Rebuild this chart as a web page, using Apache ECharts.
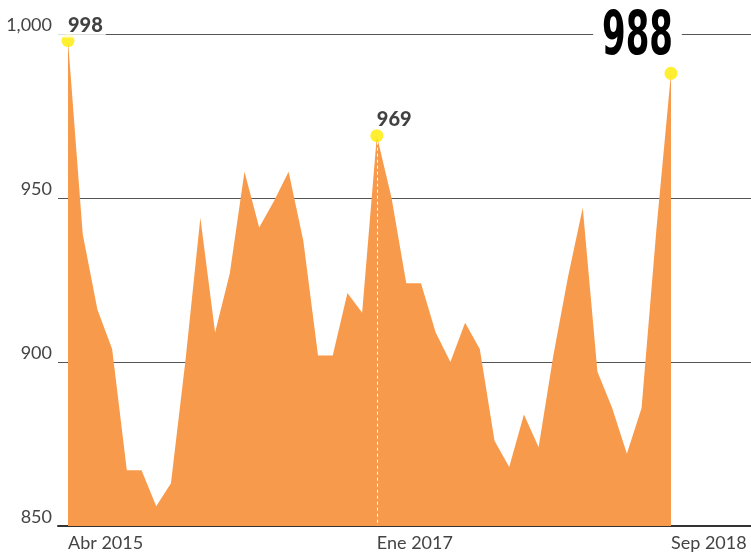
<!DOCTYPE html>
<html>
<head>
<meta charset="utf-8">
<script src="https://cdn.jsdelivr.net/npm/echarts@6/dist/echarts.min.js"></script>
<style>
html,body{margin:0;padding:0;background:#fff;}
#chart{width:751px;height:553px;}
</style>
</head>
<body>
<div id="chart"></div>
<script>
// Months from Abr 2015 to Sep 2018
const months = ["Abr 2015","May 2015","Jun 2015","Jul 2015","Ago 2015","Sep 2015","Oct 2015","Nov 2015","Dic 2015",
  "Ene 2016","Feb 2016","Mar 2016","Abr 2016","May 2016","Jun 2016","Jul 2016","Ago 2016","Sep 2016","Oct 2016","Nov 2016","Dic 2016",
  "Ene 2017","Feb 2017","Mar 2017","Abr 2017","May 2017","Jun 2017","Jul 2017","Ago 2017","Sep 2017","Oct 2017","Nov 2017","Dic 2017",
  "Ene 2018","Feb 2018","Mar 2018","Abr 2018","May 2018","Jun 2018","Jul 2018","Ago 2018","Sep 2018"];
const values = [998,939,916,904,867,867,856,863,901,944,909,927,958,941,949,958,937,902,902,921,915,
  969,950,924,924,909,900,912,904,876,868,884,874,902,926,947,897,886,872,886,940,988];
const xLabelIndexes = [0, 21, 41];
const highlightIndexes = [0, 21, 41];
const bigLabelIndex = 41;

const seriesData = values.map((v, i) => [i, v]);

const labelStyles = {
  0: {position: [-3.5, -8.5], align: 'left', verticalAlign: 'middle', fontSize: 20, fontWeight: 900,
      fontFamily: 'Lato', color: '#111', backgroundColor: '#fff', padding: [2, 3, 2, 10]},
  21: {position: [6.5, -9.5], align: 'left', verticalAlign: 'middle', fontSize: 20, fontWeight: 900,
      fontFamily: 'Lato', color: '#111'}
};

const highlightData = highlightIndexes.map(i => ({
  value: [i, values[i]],
  label: labelStyles[i] ? Object.assign({show: true, formatter: String(values[i])}, labelStyles[i]) : {show: false}
}));

const chart = echarts.init(document.getElementById('chart'), null, {renderer: 'canvas'});
chart.setOption({
  animation: false,
  backgroundColor: '#fff',
  grid: {left: 58, right: 0, top: 34, bottom: 27},
  xAxis: {
    type: 'value',
    min: -0.68,
    max: 46.44,
    axisLine: {show: true, lineStyle: {color: '#333', width: 2}},
    axisTick: {show: false},
    splitLine: {show: false},
    axisLabel: {
      customValues: xLabelIndexes,
      formatter: v => months[Math.round(v)],
      align: 'left',
      margin: 8,
      fontFamily: 'Lato',
      fontSize: 18,
      color: '#444'
    }
  },
  yAxis: {
    type: 'value',
    min: 850,
    max: 1000,
    interval: 50,
    axisLine: {show: false},
    axisTick: {show: false},
    splitLine: {lineStyle: {color: '#555', width: 1.2}},
    axisLabel: {
      formatter: v => v.toLocaleString('en-US'),
      margin: 6,
      verticalAlign: 'bottom',
      lineHeight: 18,
      fontFamily: 'Lato',
      fontSize: 18,
      color: '#444'
    }
  },
  series: [
    {
      type: 'line',
      data: seriesData,
      symbol: 'none',
      lineStyle: {width: 0},
      areaStyle: {color: '#F89A4B', opacity: 1},
      z: 2,
      markLine: {
        silent: true,
        symbol: 'none',
        label: {show: false},
        lineStyle: {color: '#fff', type: [3, 3], width: 1},
        data: [[{coord: [21, values[21]]}, {coord: [21, 850]}]]
      }
    },
    {
      type: 'scatter',
      data: highlightData,
      symbolSize: 13,
      itemStyle: {color: '#FFEB00'},
      z: 5
    }
  ]
});

// Big condensed label for the last value, anchored via the chart's own scales
const p = chart.convertToPixel({seriesIndex: 1}, [bigLabelIndex, values[bigLabelIndex]]);
chart.setOption({
  graphic: [{
    type: 'text',
    x: p[0] - 33.5,
    y: p[1] - 35,
    scaleX: 0.63,
    z: 3,
    style: {
      text: String(values[bigLabelIndex]),
      font: 'bold 60px "DejaVu Sans Condensed", "DejaVu Sans", sans-serif',
      lineHeight: 48,
      fill: '#000',
      align: 'center',
      verticalAlign: 'middle',
      backgroundColor: '#fff',
      padding: [0, 14, 0, 14]
    }
  }]
});
</script>
</body>
</html>
